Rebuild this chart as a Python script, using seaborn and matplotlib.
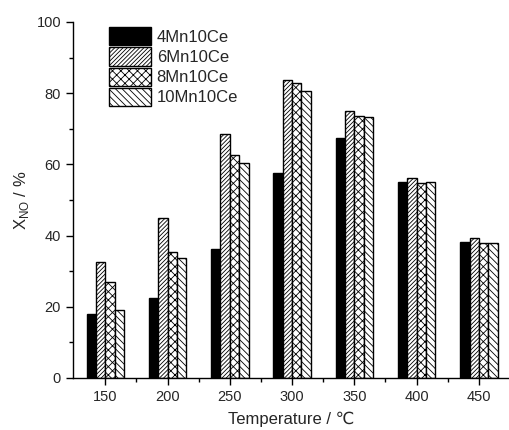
import numpy as np
import pandas as pd
import seaborn as sns
import matplotlib.pyplot as plt
from matplotlib.ticker import MultipleLocator, FixedLocator
from matplotlib.patches import Patch

# dados
temperaturas = ['150', '200', '250', '300', '350', '400', '450']
amostras = ['4Mn10Ce', '6Mn10Ce', '8Mn10Ce', '10Mn10Ce']
x_4mn = [18.0, 22.5, 36.3, 57.5, 67.4, 55.0, 38.1]
x_6mn = [32.7, 44.8, 68.5, 83.7, 75.1, 56.1, 39.2]
x_8mn = [27.0, 35.5, 62.5, 82.8, 73.7, 54.9, 38.0]
x_10mn = [19.2, 33.8, 60.3, 80.5, 73.3, 55.1, 38.0]

cores = ['black', 'white', 'white', 'white']
hachuras = ['', '////////', 'xxxx', '\\\\\\\\\\']

sns.set_style('ticks')
plt.rcParams['font.family'] = ['Liberation Sans', 'DejaVu Sans']
plt.rcParams['mathtext.fontset'] = 'custom'
plt.rcParams['mathtext.rm'] = 'Liberation Sans'
plt.rcParams['hatch.linewidth'] = 0.6

df = pd.DataFrame({
    'Temperatura': temperaturas * 4,
    'Amostra': np.repeat(amostras, len(temperaturas)),
    'XNO': x_4mn + x_6mn + x_8mn + x_10mn,
})

fig = plt.figure(figsize=(5.1, 4.3), dpi=100)
ax = fig.add_axes([0.143, 0.121, 0.857, 0.828])

sns.barplot(data=df, x='Temperatura', y='XNO', hue='Amostra', order=temperaturas,
            hue_order=amostras, palette=cores, width=0.6, edgecolor='black',
            linewidth=1.0, saturation=1, ax=ax, legend=False)

# aplicar hachuras nas barras (ordem: amostra, depois temperatura)
n = len(temperaturas)
for i, patch in enumerate(ax.patches[:4 * n]):
    patch.set_hatch(hachuras[i // n])

# legenda manual
handles = [Patch(facecolor=c, edgecolor='black', hatch=h, linewidth=1.0)
           for c, h in zip(cores, hachuras)]
ax.legend(handles, amostras, loc='upper left', bbox_to_anchor=(0.083, 0.985),
          frameon=False, fontsize=12, handlelength=2.5, handleheight=1.3,
          labelspacing=0.12, handletextpad=0.35, borderaxespad=0, borderpad=0)

ax.set_xlim(-0.52, 6.5)
ax.set_ylim(0, 100)
ax.yaxis.set_major_locator(MultipleLocator(20))
ax.yaxis.set_minor_locator(MultipleLocator(10))
ax.xaxis.set_minor_locator(FixedLocator(np.arange(0.5, 6.5, 1)))
ax.tick_params(axis='both', which='major', direction='out', length=5, width=1,
               labelsize=10.5, color='black')
ax.tick_params(axis='both', which='minor', direction='out', length=3, width=1,
               color='black')
for s in ['left', 'bottom']:
    ax.spines[s].set_color('black')
    ax.spines[s].set_linewidth(1)
sns.despine(ax=ax)

ax.set_xlabel('Temperature / ℃', fontsize=12, labelpad=6)
ax.set_ylabel(r'X$_{\mathrm{NO}}$ / %', fontsize=12)

fig.savefig('out.png', dpi=100)
